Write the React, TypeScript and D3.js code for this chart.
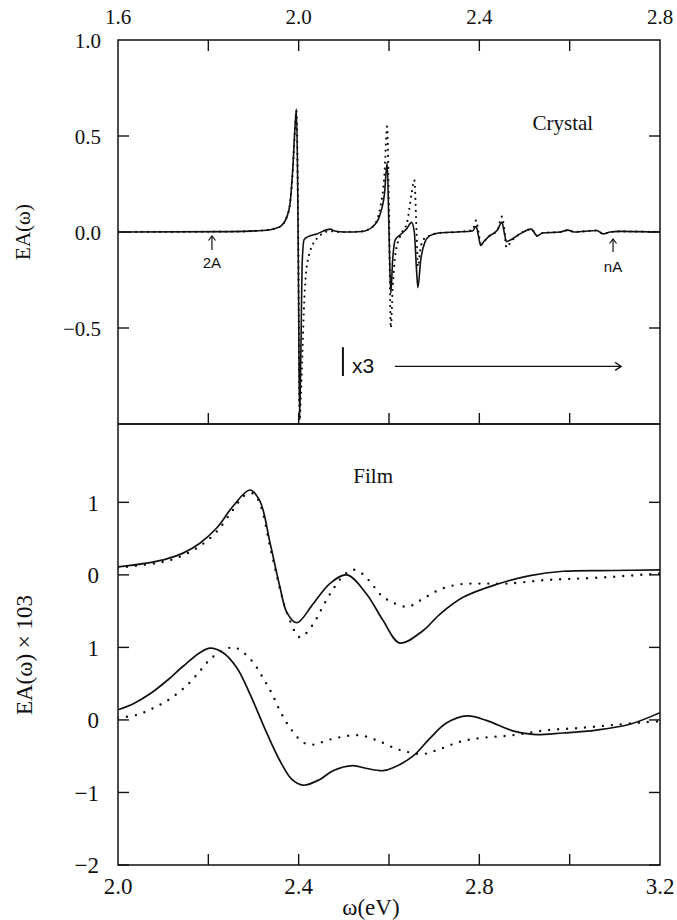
import React from "react";
import * as d3 from "d3";

const W = 677;
const H = 920;
const LEFT = 118;
const RIGHT = 660;
const TOP = 40;
const MID = 424;
const BOTTOM = 865;

// ---------- Crystal panel (top) ----------
const crystalLabelX = [1.6, 2.0, 2.4, 2.8];
const crystalTickX = [1.8, 2.0, 2.2, 2.4, 2.6];
const crystalTickY = [0.5, 0.0, -0.5];
const crystalLabelY = [1.0, 0.5, 0.0, -0.5];

const crystalE = [
  1.6, 1.85, 1.92, 1.95, 1.96, 1.974, 1.981, 1.987, 1.992, 1.995, 1.998, 2.0, 2.002, 2.005, 2.008, 2.012,
  2.02, 2.04, 2.07, 2.08, 2.1, 2.14, 2.165, 2.18, 2.19, 2.196, 2.2, 2.204, 2.208, 2.214, 2.225, 2.24,
  2.25, 2.256, 2.261, 2.264, 2.27, 2.28, 2.29, 2.31, 2.35, 2.385, 2.393, 2.398, 2.403, 2.41, 2.42, 2.44,
  2.45, 2.455, 2.46, 2.47, 2.49, 2.515, 2.528, 2.54, 2.58, 2.596, 2.61, 2.66, 2.674, 2.69, 2.71, 2.8,
];
const crystalSolid = [
  0, 0.002, 0.008, 0.02, 0.03, 0.08, 0.15, 0.33, 0.55, 0.64, 0.2, -0.4, -0.98, -0.6, -0.15, -0.04,
  -0.025, -0.01, 0.015, 0.005, 0, 0.003, 0.03, 0.09, 0.2, 0.36, 0, -0.32, -0.15, -0.04, -0.015, 0.02,
  0.05, 0, -0.2, -0.29, -0.15, -0.05, -0.02, -0.005, 0, 0.005, 0.03, -0.02, -0.07, -0.05, -0.025, 0.01,
  0.05, 0, -0.05, -0.04, -0.01, 0.015, -0.02, -0.005, 0, 0.01, 0, 0.008, -0.01, 0, 0.003, 0,
];
const crystalDotted = [
  0, 0.002, 0.008, 0.02, 0.03, 0.08, 0.15, 0.32, 0.54, 0.63, 0.25, -0.3, -0.98, -0.85, -0.65, -0.38,
  -0.15, -0.035, 0.005, 0, 0, 0.003, 0.03, 0.12, 0.3, 0.55, 0.1, -0.5, -0.3, -0.12, -0.02, 0.05,
  0.2, 0.27, 0, -0.18, -0.08, -0.03, -0.02, -0.005, 0, 0.01, 0.06, 0, -0.06, -0.05, -0.025, 0.01,
  0.08, 0.02, -0.08, -0.05, -0.01, 0.015, -0.02, -0.005, 0, 0.01, 0, 0.008, -0.01, 0, 0.003, 0,
];

// ---------- Film panel (bottom) ----------
const filmLabelX = [2.0, 2.4, 2.8, 3.2];
const filmTickX = [2.2, 2.4, 2.6, 2.8, 3.0];
const filmTickY = [-2, -1, 0, 1, 2, 3];
const filmTickYLabels = ["−2", "−1", "0", "1", "0", "1"];
const filmUpperOffset = 2;

const filmUpperSolidE = [
  2.0, 2.071, 2.108, 2.144, 2.182, 2.219, 2.255, 2.292, 2.314, 2.337, 2.359, 2.374, 2.396, 2.432, 2.469,
  2.507, 2.551, 2.587, 2.624, 2.675, 2.713, 2.764, 2.839, 2.912, 2.985, 3.096, 3.2,
];
const filmUpperSolid = [
  0.11, 0.17, 0.22, 0.3, 0.44, 0.65, 0.95, 1.17, 1.02, 0.43, -0.18, -0.52, -0.66, -0.4, -0.12,
  0.0, -0.27, -0.63, -0.94, -0.77, -0.54, -0.31, -0.13, -0.01, 0.05, 0.06, 0.07,
];
const filmUpperDottedE = [
  2.0, 2.071, 2.108, 2.144, 2.182, 2.219, 2.255, 2.281, 2.3, 2.316, 2.337, 2.359, 2.374, 2.403, 2.432,
  2.454, 2.476, 2.498, 2.52, 2.542, 2.565, 2.584, 2.602, 2.64, 2.675, 2.713, 2.757, 2.801, 2.861, 2.95,
  3.06, 3.2,
];
const filmUpperDotted = [
  0.1, 0.15, 0.19, 0.27, 0.4, 0.6, 0.9, 1.1, 1.12, 0.95, 0.38, -0.2, -0.52, -0.86, -0.68,
  -0.43, -0.2, -0.02, 0.07, 0.01, -0.15, -0.29, -0.36, -0.44, -0.33, -0.2, -0.13, -0.12, -0.12, -0.07,
  -0.04, 0.02,
];
const filmLowerSolidE = [
  2.0, 2.033, 2.071, 2.108, 2.144, 2.182, 2.204, 2.232, 2.263, 2.292, 2.33, 2.36, 2.385, 2.41, 2.447,
  2.476, 2.52, 2.551, 2.587, 2.609, 2.653, 2.691, 2.728, 2.773, 2.817, 2.874, 2.919, 2.985, 3.06, 3.133,
  3.2,
];
const filmLowerSolid = [
  0.14, 0.22, 0.36, 0.54, 0.74, 0.93, 0.99, 0.93, 0.72, 0.36, -0.19, -0.58, -0.82, -0.9, -0.82,
  -0.7, -0.63, -0.67, -0.7, -0.66, -0.5, -0.25, -0.04, 0.055, -0.01, -0.15, -0.2, -0.18, -0.14, -0.06,
  0.1,
];
const filmLowerDottedE = [
  2.0, 2.042, 2.077, 2.115, 2.153, 2.182, 2.208, 2.244, 2.263, 2.297, 2.321, 2.341, 2.359, 2.381, 2.41,
  2.432, 2.469, 2.531, 2.573, 2.613, 2.64, 2.675, 2.713, 2.757, 2.801, 2.874, 2.95, 3.023, 3.096, 3.171,
  3.2,
];
const filmLowerDotted = [
  0.03, 0.07, 0.16, 0.29, 0.48, 0.68, 0.86, 0.99, 0.99, 0.81, 0.58, 0.36, 0.12, -0.11, -0.31,
  -0.34, -0.27, -0.21, -0.28, -0.39, -0.44, -0.47, -0.4, -0.3, -0.25, -0.21, -0.14, -0.11, -0.07, -0.03,
  -0.02,
];

const SERIF = "'Liberation Serif', 'DejaVu Serif', serif";
const SANS = "'Liberation Sans', Arial, sans-serif";

export default function App() {
  const xC = d3.scaleLinear().domain([1.6, 2.8]).range([LEFT, RIGHT]);
  const yC = d3.scaleLinear().domain([-1, 1]).range([MID, TOP]);
  const xF = d3.scaleLinear().domain([2.0, 3.2]).range([LEFT, RIGHT]);
  const yF = d3.scaleLinear().domain([-2, 4.08]).range([BOTTOM, MID]);

  const lineC = d3
    .line<[number, number]>()
    .x((d) => xC(d[0]))
    .y((d) => yC(d[1]))
    .curve(d3.curveMonotoneX);
  const lineF = (off: number) =>
    d3
      .line<[number, number]>()
      .x((d) => xF(d[0]))
      .y((d) => yF(d[1] + off))
      .curve(d3.curveCatmullRom.alpha(0.5));

  const zip = (a: number[], b: number[]) => a.map((v, i) => [v, b[i]] as [number, number]);

  const cSolid = lineC(zip(crystalE, crystalSolid)) || "";
  const cDot = lineC(zip(crystalE, crystalDotted)) || "";
  const fUS = lineF(filmUpperOffset)(zip(filmUpperSolidE, filmUpperSolid)) || "";
  const fUD = lineF(filmUpperOffset)(zip(filmUpperDottedE, filmUpperDotted)) || "";
  const fLS = lineF(0)(zip(filmLowerSolidE, filmLowerSolid)) || "";
  const fLD = lineF(0)(zip(filmLowerDottedE, filmLowerDotted)) || "";

  const TL = 11;
  const axisStroke = "#111";

  // annotation anchors (data coordinates)
  const a2A = { e: 1.808, y: 0 };
  const anA = { e: 2.696, y: 0 };
  const x3bar = 2.098;
  const arrowStart = 2.213;
  const arrowEnd = 2.714;
  const arrowY = -0.7;

  const upArrow = (cx: number, yTop: number, yBot: number) => (
    <g stroke="#111" strokeWidth={1.2} fill="none">
      <line x1={cx} x2={cx} y1={yTop} y2={yBot} />
      <path d={`M${cx - 3.5},${yTop + 4.5} L${cx},${yTop} L${cx + 3.5},${yTop + 4.5}`} />
    </g>
  );

  return (
    <svg
      width={W}
      height={H}
      style={{ position: "absolute", left: 0, top: 0, background: "#fff" }}
      xmlns="http://www.w3.org/2000/svg"
    >
      <defs>
        <clipPath id="clipC">
          <rect x={LEFT} y={TOP} width={RIGHT - LEFT} height={MID - TOP} />
        </clipPath>
        <clipPath id="clipF">
          <rect x={LEFT} y={MID} width={RIGHT - LEFT} height={BOTTOM - MID} />
        </clipPath>
      </defs>
      <rect x={0} y={0} width={W} height={H} fill="#fff" />

      {/* ---------- Crystal panel ---------- */}
      <g clipPath="url(#clipC)" fill="none" stroke="#111">
        <path d={cDot} strokeWidth={2.2} strokeDasharray="0 6" strokeLinecap="round" />
        <path d={cSolid} strokeWidth={1.6} strokeLinejoin="round" />
      </g>
      <rect x={LEFT} y={TOP} width={RIGHT - LEFT} height={MID - TOP} fill="none" stroke={axisStroke} strokeWidth={1.5} />
      <g stroke={axisStroke} strokeWidth={1.4}>
        {crystalTickX.map((t) => (
          <g key={"ctx" + t}>
            <line x1={xC(t)} x2={xC(t)} y1={TOP} y2={TOP + TL} />
            <line x1={xC(t)} x2={xC(t)} y1={MID} y2={MID - TL} />
          </g>
        ))}
        {crystalTickY.map((t) => (
          <g key={"cty" + t}>
            <line x1={LEFT} x2={LEFT + TL} y1={yC(t)} y2={yC(t)} />
            <line x1={RIGHT} x2={RIGHT - TL} y1={yC(t)} y2={yC(t)} />
          </g>
        ))}
      </g>
      <g fontFamily={SERIF} fontSize={21} fill="#111">
        {crystalLabelX.map((t) => (
          <text key={"clx" + t} x={xC(t)} y={TOP - 16} textAnchor="middle">
            {t.toFixed(1)}
          </text>
        ))}
        {crystalLabelY.map((t) => (
          <text key={"cly" + t} x={LEFT - 17} y={yC(t) + 3} textAnchor="end" dominantBaseline="middle">
            {(t < 0 ? "−" : "") + Math.abs(t).toFixed(1)}
          </text>
        ))}
        <text transform={`translate(30, ${yC(0)}) rotate(-90)`} textAnchor="middle" fontSize={21}>
          EA(ω)
        </text>
        <text x={xC(2.585)} y={yC(0.53)} textAnchor="middle" fontSize={21}>
          Crystal
        </text>
      </g>

      {/* annotations */}
      {upArrow(xC(a2A.e), yC(a2A.y) + 4, yC(a2A.y) + 18)}
      <text x={xC(a2A.e)} y={yC(a2A.y) + 36} fontFamily={SANS} fontSize={15} textAnchor="middle" fill="#111">
        2A
      </text>
      {upArrow(xC(anA.e), yC(anA.y) + 7, yC(anA.y) + 20)}
      <text x={xC(anA.e)} y={yC(anA.y) + 40} fontFamily={SANS} fontSize={15} textAnchor="middle" fill="#111">
        nA
      </text>
      <line x1={xC(x3bar)} x2={xC(x3bar)} y1={yC(-0.6)} y2={yC(-0.75)} stroke="#111" strokeWidth={2} />
      <text x={xC(x3bar) + 9} y={yC(-0.7) + 7} fontFamily={SANS} fontSize={21} fill="#111">
        x3
      </text>
      <g stroke="#111" strokeWidth={1.3} fill="none">
        <line x1={xC(arrowStart)} x2={xC(arrowEnd)} y1={yC(arrowY)} y2={yC(arrowY)} />
        <path
          d={`M${xC(arrowEnd) - 6},${yC(arrowY) - 4} L${xC(arrowEnd)},${yC(arrowY)} L${xC(arrowEnd) - 6},${yC(arrowY) + 4}`}
        />
      </g>

      {/* ---------- Film panel ---------- */}
      <g clipPath="url(#clipF)" fill="none" stroke="#111">
        <path d={fUD} strokeWidth={2.4} strokeDasharray="0 9" strokeLinecap="round" />
        <path d={fLD} strokeWidth={2.4} strokeDasharray="0 9" strokeLinecap="round" />
        <path d={fUS} strokeWidth={1.7} />
        <path d={fLS} strokeWidth={1.7} />
      </g>
      <rect x={LEFT} y={MID} width={RIGHT - LEFT} height={BOTTOM - MID} fill="none" stroke={axisStroke} strokeWidth={1.5} />
      <g stroke={axisStroke} strokeWidth={1.4}>
        {filmTickX.map((t) => (
          <line key={"ftx" + t} x1={xF(t)} x2={xF(t)} y1={BOTTOM} y2={BOTTOM - TL} />
        ))}
        {filmTickY.map((t) => (
          <g key={"fty" + t}>
            <line x1={LEFT} x2={LEFT + TL} y1={yF(t)} y2={yF(t)} />
            <line x1={RIGHT} x2={RIGHT - TL} y1={yF(t)} y2={yF(t)} />
          </g>
        ))}
      </g>
      <g fontFamily={SERIF} fontSize={23} fill="#111">
        {filmLabelX.map((t) => (
          <text key={"flx" + t} x={xF(t)} y={BOTTOM + 29} textAnchor="middle">
            {t.toFixed(1)}
          </text>
        ))}
        {filmTickY.map((t, i) => (
          <text key={"fly" + t} x={LEFT - 19} y={yF(t) + 3} textAnchor="end" dominantBaseline="middle">
            {filmTickYLabels[i]}
          </text>
        ))}
        <text transform={`translate(32, 655) rotate(-90)`} textAnchor="middle">
          EA(ω) × 103
        </text>
        <text x={xF(2.56)} y={BOTTOM + 50} textAnchor="middle">
          ω(eV)
        </text>
        <text x={xF(2.565)} y={yF(3.27)} textAnchor="middle" fontSize={21}>
          Film
        </text>
      </g>
    </svg>
  );
}
